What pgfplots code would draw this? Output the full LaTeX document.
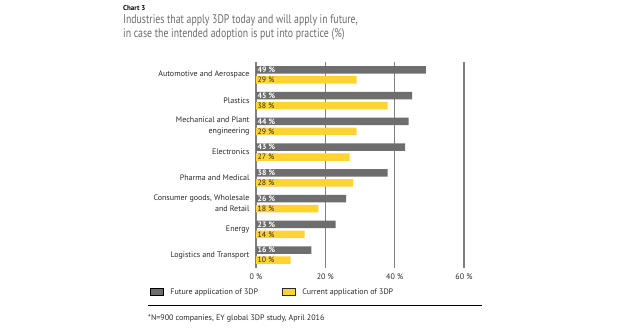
\documentclass[border=0pt]{standalone}
\usepackage{fontspec}
\setmainfont{PT Sans}
\usepackage{pgfplots}
\usepackage{pgfplotstable}
\pgfplotsset{compat=1.18}
\definecolor{barGray}{HTML}{6E6E6E}
\definecolor{barYellow}{HTML}{FFD330}
\definecolor{gridGray}{HTML}{808080}
\definecolor{txt}{HTML}{2A2A2A}
\definecolor{titleGray}{HTML}{6D6D6D}

\pgfplotstableread{
y fut cur
7 49 29
6 45 38
5 44 29
4 43 27
3 38 28
2 26 18
1 23 14
0 16 10
}\datatable

\begin{document}
\begin{tikzpicture}[x=1pt,y=1pt]
\useasboundingbox[fill=white] (0pt,0pt) rectangle (620pt,330pt);
\node[anchor=base west, font=\fontsize{7}{8}\selectfont\bfseries, text=black, inner sep=0] at (123pt,319pt) {Chart 3};
\node[anchor=base west, font=\addfontfeature{FakeStretch=0.785}\fontsize{12.5}{14}\selectfont, text=titleGray, inner sep=0] at (123pt,306pt) {Industries that apply 3DP today and will apply in future,};
\node[anchor=base west, font=\addfontfeature{FakeStretch=0.785}\fontsize{12.5}{14}\selectfont, text=titleGray, inner sep=0] at (123pt,292pt) {in case the intended adoption is put into practice (\%)};
\begin{axis}[
  at={(256pt,62pt)}, anchor=south west, scale only axis,
  width=208pt, height=206pt,
  xmin=0, xmax=60, ymin=-0.5, ymax=7.5,
  xtick={0,20,40,60}, xticklabels={0 \%, 20 \%, 40 \%, 60 \%},
  ytick={0,...,7},
  yticklabels={Logistics and Transport, Energy, {Consumer goods, Wholesale\\and Retail}, Pharma and Medical, Electronics, {Mechanical and Plant\\engineering}, Plastics, Automotive and Aerospace},
  xmajorgrids, grid style={gridGray, line width=1.3pt},
  axis line style={draw=none}, major tick length=0pt,
  tick label style={font=\fontsize{8}{11}\selectfont, text=txt},
  yticklabel style={align=right, xshift=-3pt},
  xticklabel style={yshift=-2pt},
  xbar, bar width=7.6pt,
  clip=false,
  legend columns=2,
  legend style={at={(axis description cs:-0.525,-0.1165)}, anchor=west, draw=none, fill=none,
    font=\fontsize{8}{10}\selectfont, text=txt,
    /tikz/every odd column/.append style={column sep=5pt},
    /tikz/every even column/.append style={column sep=22pt}},
  legend image code/.code={\draw[#1] (0pt,-3.5pt) rectangle (13pt,3.5pt);},
]
\addplot[fill=barGray, draw=none, bar shift=5pt, forget plot] table[x=fut,y=y]{\datatable};
\addplot[fill=barYellow, draw=none, bar shift=-5pt, forget plot] table[x=cur,y=y]{\datatable};
\addplot[draw=none, fill=none, bar shift=5pt, forget plot,
  nodes near coords={\pgfmathprintnumber[assume math mode=true]{\pgfplotspointmeta} \%}, point meta=explicit,
  nodes near coords style={anchor=west, text=white, font=\fontsize{7.8}{8}\selectfont\bfseries, inner sep=1.5pt}]
  table[x expr=0, y=y, meta=fut]{\datatable};
\addplot[draw=none, fill=none, bar shift=-5pt, forget plot,
  nodes near coords={\pgfmathprintnumber[assume math mode=true]{\pgfplotspointmeta} \%}, point meta=explicit,
  nodes near coords style={anchor=west, text=txt, font=\fontsize{7.8}{8}\selectfont, inner sep=1.5pt}]
  table[x expr=0, y=y, meta=cur]{\datatable};
\addlegendimage{fill=barGray, draw=none}
\addlegendentry{Future application of 3DP}
\addlegendimage{fill=barYellow, draw=txt}
\addlegendentry{Current application of 3DP}
\end{axis}
\draw[black, line width=0.8pt] (148pt,25pt) -- (482pt,25pt);
\node[anchor=base west, font=\fontsize{8}{9}\selectfont, text=txt, inner sep=0] at (148pt,9.5pt) {*N=900 companies, EY global 3DP study, April 2016};
\end{tikzpicture}
\end{document}
